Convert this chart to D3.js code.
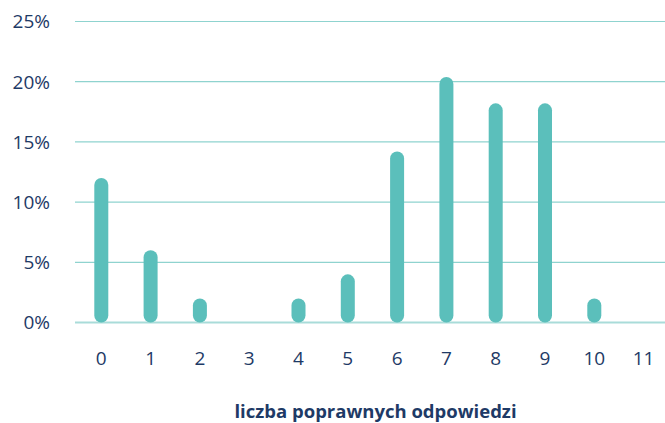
<!DOCTYPE html>
<html>
<head>
<meta charset="utf-8">
<script src="https://cdn.jsdelivr.net/npm/d3@7"></script>
<style>
  body { margin: 0; background: #fff; }
  text { font-family: "Open Sans", "Noto Sans", sans-serif; fill: #1e3a66; }
</style>
</head>
<body>
<div id="chart"></div>
<script>
var categories = ["0", "1", "2", "3", "4", "5", "6", "7", "8", "9", "10", "11"];
var values = [12, 6, 2, 0, 2, 4, 14.2, 20.4, 18.2, 18.2, 2, 0];
var yTicks = [0, 5, 10, 15, 20, 25];
var xTitle = "liczba poprawnych odpowiedzi";

var width = 665, height = 423;

var svg = d3.select("#chart").append("svg")
    .attr("width", width)
    .attr("height", height);

var x = d3.scalePoint()
    .domain(categories)
    .range([101.3, 643.6]);

var y = d3.scaleLinear()
    .domain([0, 25])
    .range([322.5, 21.5]);

// gridlines
svg.selectAll("line.grid").data(yTicks).enter().append("line")
    .attr("class", "grid")
    .attr("x1", 75)
    .attr("x2", width)
    .attr("y1", d => y(d))
    .attr("y2", d => y(d))
    .attr("stroke", d => d == 0 ? "#a9dcd9" : "#8fd3cf")
    .attr("stroke-width", d => d == 0 ? 2 : 1.2);

// y labels
svg.selectAll("text.ylab").data(yTicks).enter().append("text")
    .attr("class", "ylab")
    .attr("x", 50)
    .attr("y", d => y(d))
    .attr("dy", "0.36em")
    .attr("text-anchor", "end")
    .style("font-size", "19px")
    .text(d => d + "%");

// bars
var barW = 14;
svg.selectAll("rect.bar").data(values).enter().append("rect")
    .attr("class", "bar")
    .attr("x", (d, i) => x(categories[i]) - barW / 2)
    .attr("y", d => y(d))
    .attr("width", barW)
    .attr("height", d => y(0) - y(d))
    .attr("rx", barW / 2)
    .attr("fill", "#5bbfbb")
    .style("display", d => d > 0 ? null : "none");

// x labels
svg.selectAll("text.xlab").data(categories).enter().append("text")
    .attr("class", "xlab")
    .attr("x", d => x(d))
    .attr("y", 365)
    .attr("text-anchor", "middle")
    .style("font-size", "19px")
    .text(d => d);

svg.append("text")
    .attr("x", 375.5)
    .attr("y", 418)
    .attr("text-anchor", "middle")
    .style("font-size", "18.5px")
    .style("font-weight", "bold")
    .text(xTitle);
</script>
</body>
</html>
